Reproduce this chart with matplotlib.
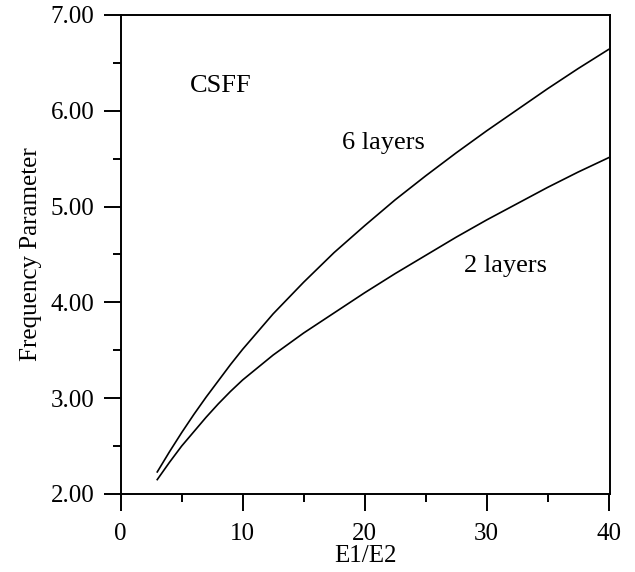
import matplotlib
matplotlib.use("Agg")
import matplotlib.pyplot as plt
from matplotlib.ticker import MultipleLocator, FormatStrFormatter

# Valeurs (E1/E2 -> paramètre de fréquence)
ratio = [3, 4, 5, 6, 7, 8, 9, 10, 12.5, 15, 17.5, 20, 22.5, 25, 27.5, 30, 32.5, 35, 37.5, 40]
freq_6_layers = [2.23, 2.44, 2.64, 2.83, 3.01, 3.18, 3.35, 3.51, 3.88, 4.21,
                 4.52, 4.80, 5.07, 5.32, 5.56, 5.79, 6.01, 6.23, 6.44, 6.64]
freq_2_layers = [2.15, 2.33, 2.50, 2.65, 2.80, 2.94, 3.07, 3.19, 3.45, 3.68,
                 3.89, 4.10, 4.30, 4.49, 4.68, 4.86, 5.03, 5.20, 5.36, 5.51]

plt.rcParams['font.family'] = ['Liberation Serif', 'DejaVu Serif']
FS = 18

fig = plt.figure(figsize=(6.35, 5.72), dpi=100)
ax = fig.add_axes([0.19, 0.1364, 0.7714, 0.8374])

ax.plot(ratio, freq_6_layers, color='black', lw=1.2)
ax.plot(ratio, freq_2_layers, color='black', lw=1.2)

ax.set_xlim(0, 40.16)
ax.set_ylim(2.0, 7.0)
ax.xaxis.set_major_locator(MultipleLocator(10))
ax.xaxis.set_minor_locator(MultipleLocator(5))
ax.yaxis.set_major_locator(MultipleLocator(1))
ax.yaxis.set_minor_locator(MultipleLocator(0.5))
ax.yaxis.set_major_formatter(FormatStrFormatter('%.2f'))

for s in ax.spines.values():
    s.set_linewidth(1.4)
ax.tick_params(which='major', direction='out', length=12, width=1.4, labelsize=FS)
ax.tick_params(which='minor', direction='out', length=6, width=1.4)
ax.tick_params(axis='y', which='major', pad=7)
ax.tick_params(axis='x', which='major', pad=9)

ax.set_xlabel("E1/E2", fontsize=FS, labelpad=0)
ax.set_ylabel("Frequency Parameter", fontsize=FS, labelpad=6)

# annotations dans le graphe
ax.text(5.7, 6.20, "CSFF", fontsize=19, va='baseline')
ax.text(18.15, 5.60, "6 layers", fontsize=19, va='baseline')
ax.text(28.15, 4.32, "2 layers", fontsize=19, va='baseline')

fig.savefig("out.png", dpi=100)
